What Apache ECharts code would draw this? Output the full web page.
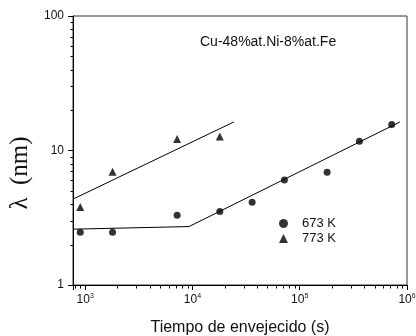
<!DOCTYPE html>
<html>
<head>
<meta charset="utf-8">
<script src="https://cdn.jsdelivr.net/npm/echarts@6/dist/echarts.min.js"></script>
<style>html,body{margin:0;padding:0;background:#fff}#c{width:416px;height:336px}</style>
</head>
<body>
<div id="c"></div>
<script>
// Data
const times673 = [900, 1800, 7200, 18000, 36000, 72000, 180000, 360000, 720000];
const lambda673 = [2.47, 2.47, 3.30, 3.52, 4.13, 6.04, 6.88, 11.7, 15.6];
const times773 = [900, 1800, 7200, 18000];
const lambda773 = [3.8, 6.95, 12.2, 12.7];
const fit673X = [770, 9290, 859000];
const fit673Y = [2.60, 2.72, 16.3];
const fit773X = [770, 24300];
const fit773Y = [4.35, 16.3];
const xMinorTicks = [800, 900, 2000, 3000, 4000, 5000, 6000, 7000, 8000, 9000,
  20000, 30000, 40000, 50000, 60000, 70000, 80000, 90000,
  200000, 300000, 400000, 500000, 600000, 700000, 800000, 900000];
const yMinorTicks = [2, 3, 4, 5, 6, 7, 8, 9, 20, 30, 40, 50, 60, 70, 80, 90];
const xMin = 770, xMax = 1000000, yMin = 1, yMax = 100;
const seriesNames = ['673 K', '773 K'];
const annotation = 'Cu-48%at.Ni-8%at.Fe';
const xTitle = 'Tiempo de envejecido (s)';
const yTitle = 'λ  (nm)';

const zip = (a, b) => a.map((v, i) => [v, b[i]]);
const isPow10 = v => Math.abs(Math.log10(v) - Math.round(Math.log10(v))) < 1e-6;

const chart = echarts.init(document.getElementById('c'), null, {renderer: 'canvas'});
const axisColor = '#000';
const tickSeries = (name, values, horizontal) => ({
  name: name, type: 'custom', clip: false, silent: true, z: 10,
  data: values.map(v => horizontal ? [v, yMin] : [xMin, v]),
  renderItem: (params, api) => {
    const p = api.coord([api.value(0), api.value(1)]);
    const x = Math.round(p[0]) + 0.5, y = Math.round(p[1]) + 0.5;
    const shape = horizontal ? {x1: x, y1: y, x2: x, y2: y + 3} : {x1: x - 3, y1: y, x2: x, y2: y};
    return {type: 'line', shape: shape, style: {stroke: axisColor, lineWidth: 1}};
  }
});
chart.setOption({
  animation: false,
  backgroundColor: '#fff',
  grid: {left: 73, right: 9, top: 16, bottom: 51, show: true, borderColor: '#333', borderWidth: 1,
    containLabel: false, outerBoundsMode: 'none'},
  xAxis: {
    type: 'log', logBase: 10, min: xMin, max: xMax,
    name: xTitle, nameLocation: 'middle', nameGap: 35,
    nameTextStyle: {fontFamily: 'Arial, Liberation Sans', fontSize: 16, color: '#111'},
    axisLine: {lineStyle: {color: axisColor, width: 1}},
    axisTick: {show: true, length: 5, inside: false, lineStyle: {color: axisColor}},
    splitLine: {show: false},
    axisLabel: {
      margin: 8, fontFamily: 'Arial, Liberation Sans', fontSize: 12, color: '#111',
      formatter: v => isPow10(v) ? '10{sup|' + Math.round(Math.log10(v)) + '}' : '',
      rich: {sup: {fontSize: 7, fontFamily: 'Arial, Liberation Sans', color: '#111', verticalAlign: 'bottom', padding: [0, 0, 7, 0]}}
    }
  },
  yAxis: {
    type: 'log', logBase: 10, min: yMin, max: yMax,
    name: yTitle, nameLocation: 'middle', nameGap: 33, nameRotate: 90,
    nameTextStyle: {fontFamily: 'Liberation Serif, Times New Roman, serif', fontSize: 25, color: '#111', padding: [0, 45, 0, 0]},
    axisLine: {lineStyle: {color: axisColor, width: 1}},
    axisTick: {show: true, length: 5, inside: false, lineStyle: {color: axisColor}},
    splitLine: {show: false},
    axisLabel: {margin: 9, fontFamily: 'Arial, Liberation Sans', fontSize: 12, color: '#111',
      formatter: v => isPow10(v) ? String(Math.round(v)) : ''}
  },
  legend: {
    data: [{name: seriesNames[0], icon: 'circle'}, {name: seriesNames[1], icon: 'triangle'}],
    orient: 'vertical', left: 274, top: 212,
    itemWidth: 9, itemHeight: 9, itemGap: 2,
    textStyle: {fontFamily: 'Arial, Liberation Sans', fontSize: 13, color: '#111', lineHeight: 13, padding: [0, 0, 0, 9]}
  },
  graphic: [{
    type: 'text', left: 200, top: 35,
    style: {text: annotation, font: '14px Arial, Liberation Sans', fill: '#111'}
  }],
  series: [
    {name: seriesNames[0], type: 'scatter', data: zip(times673, lambda673), symbol: 'circle', symbolSize: 7,
      itemStyle: {color: '#000'}, z: 5},
    {name: seriesNames[1], type: 'scatter', data: zip(times773, lambda773), symbol: 'triangle', symbolSize: 8,
      itemStyle: {color: '#000'}, z: 5},
    {name: 'fit673', type: 'line', data: zip(fit673X, fit673Y), symbol: 'none',
      lineStyle: {color: '#000', width: 1}, z: 4},
    {name: 'fit773', type: 'line', data: zip(fit773X, fit773Y), symbol: 'none',
      lineStyle: {color: '#000', width: 1}, z: 4},
    tickSeries('xminor', xMinorTicks, true),
    tickSeries('yminor', yMinorTicks, false)
  ]
});
</script>
</body>
</html>
